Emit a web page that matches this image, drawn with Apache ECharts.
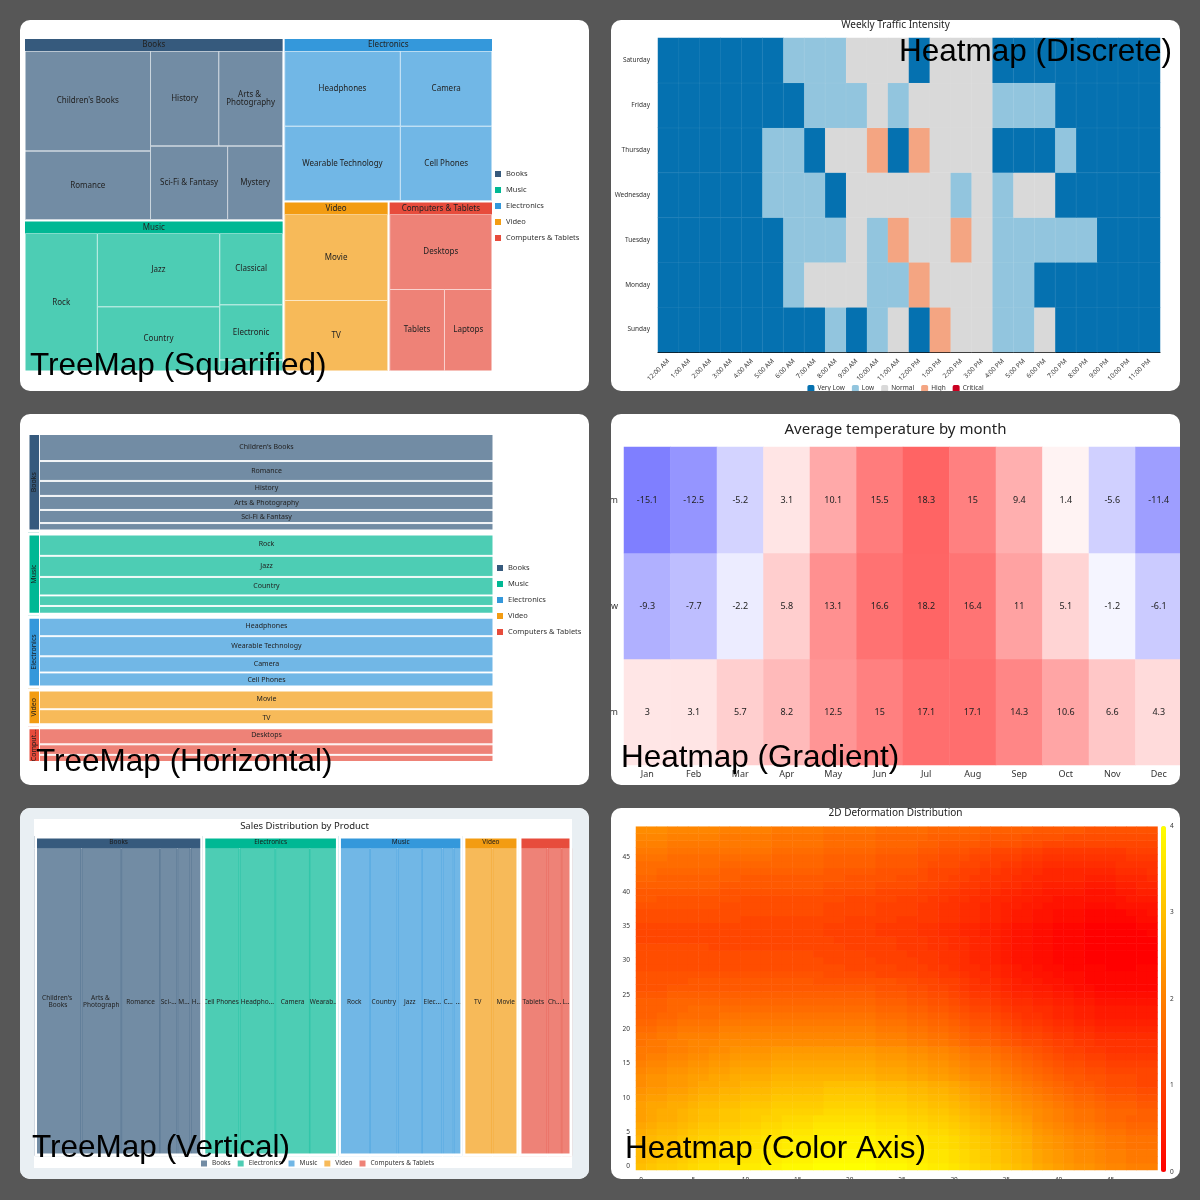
<!DOCTYPE html>
<html><head><meta charset="utf-8">
<script src="https://cdn.jsdelivr.net/npm/echarts@6/dist/echarts.min.js"></script>
<style>
html,body{margin:0;padding:0;background:#575757;width:1200px;height:1200px;overflow:hidden}
.p{position:absolute;width:569px;height:371px;background:#fff;border-radius:10px;overflow:hidden}
</style></head><body>
<div class="p" id="c1" style="left:20px;top:20px"></div>
<div class="p" id="c2" style="left:611px;top:20px"></div>
<div class="p" id="c3" style="left:20px;top:414px"></div>
<div class="p" id="c4" style="left:611px;top:414px"></div>
<div class="p" id="c5" style="left:20px;top:808px"></div>
<div class="p" id="c6" style="left:611px;top:808px"></div>
<script>
// ---------- DATA ----------
const groupNames = ['Books','Music','Electronics','Video','Computers & Tablets'];
const booksNames = ["Children's Books",'Romance','History','Arts & Photography','Sci-Fi & Fantasy','Mystery'];
const booksValues = [124,85,64,60,56,40];
const musicNames = ['Rock','Jazz','Country','Classical','Electronic','Soundtracks'];
const musicValues = [100,90,79,45,35,7];
const electronicsNames = ['Headphones','Wearable Technology','Camera','Cell Phones'];
const electronicsValues = [87,86,69,68];
const videoNames = ['Movie','TV'];
const videoValues = [89,73];
const computersNames = ['Desktops','Tablets','Laptops'];
const computersValues = [77,45,39];

// vertical treemap (Sales Distribution by Product)
const vGroupNames = ['Books','Electronics','Music','Video','Computers & Tablets'];
const vBooksNames = ["Children's Books",'Arts & Photography','Romance','Sci-Fi & Fantasy','Mystery','History'];
const vBooksValues = [46,39,38,17,13,12];
const vElecNames = ['Cell Phones','Headphones','Camera','Wearable Technology'];
const vElecValues = [36,35,34,28];
const vMusicNames = ['Rock','Country','Jazz','Electronic','Classical','Soundtracks'];
const vMusicValues = [31,27,24,20,11,9];
const vVideoNames = ['TV','Movie'];
const vVideoValues = [29,26];
const vCompNames = ['Tablets','Chromebooks','Laptops'];
const vCompValues = [28,14,10];

// weekly traffic (0 Very Low .. 4 Critical)
const hours = ['12:00 AM','1:00 AM','2:00 AM','3:00 AM','4:00 AM','5:00 AM','6:00 AM','7:00 AM','8:00 AM','9:00 AM','10:00 AM','11:00 AM','12:00 PM','1:00 PM','2:00 PM','3:00 PM','4:00 PM','5:00 PM','6:00 PM','7:00 PM','8:00 PM','9:00 PM','10:00 PM','11:00 PM'];
const days = ['Sunday','Monday','Tuesday','Wednesday','Thursday','Friday','Saturday'];
const levelNames = ['Very Low','Low','Normal','High','Critical'];
const trafficSunday    = [0,0,0,0,0,0,0,0,1,0,1,2,0,3,2,2,1,1,2,0,0,0,0,0];
const trafficMonday    = [0,0,0,0,0,0,1,2,2,2,1,1,3,2,2,2,1,1,0,0,0,0,0,0];
const trafficTuesday   = [0,0,0,0,0,0,1,1,1,2,1,3,2,2,3,2,1,1,1,1,1,0,0,0];
const trafficWednesday = [0,0,0,0,0,1,1,1,0,2,2,2,2,2,1,2,1,2,2,0,0,0,0,0];
const trafficThursday  = [0,0,0,0,0,1,1,0,2,2,3,0,3,2,2,2,0,0,0,1,0,0,0,0];
const trafficFriday    = [0,0,0,0,0,0,0,1,1,1,2,1,2,2,2,2,1,1,1,0,0,0,0,0];
const trafficSaturday  = [0,0,0,0,0,0,1,1,1,2,2,2,0,2,2,2,0,0,0,0,0,0,0,0];

// temperatures
const months = ['Jan','Feb','Mar','Apr','May','Jun','Jul','Aug','Sep','Oct','Nov','Dec'];
const cities = ['Amsterdam','Moscow','Perm'];
const tempAmsterdam = [3,3.1,5.7,8.2,12.5,15,17.1,17.1,14.3,10.6,6.6,4.3];
const tempMoscow = [-9.3,-7.7,-2.2,5.8,13.1,16.6,18.2,16.4,11,5.1,-1.2,-6.1];
const tempPerm = [-15.1,-12.5,-5.2,3.1,10.1,15.5,18.3,15,9.4,1.4,-5.6,-11.4];

// deformation (row index = y 0..49, column = x 0..49)
const deformTicks = ['0','1','2','3','4','5','6','7','8','9','10','11','12','13','14','15','16','17','18','19','20','21','22','23','24','25','26','27','28','29','30','31','32','33','34','35','36','37','38','39','40','41','42','43','44','45','46','47','48','49'];
const colorAxisTicks = [0,1,2,3,4];
const deformation = [
[3.0,3.1,3.2,3.2,3.3,3.4,3.5,3.5,3.6,3.6,3.7,3.7,3.8,3.8,3.9,3.9,3.9,4.0,4.0,4.0,4.0,4.0,4.0,3.9,3.9,3.9,3.8,3.8,3.7,3.7,3.6,3.5,3.4,3.3,3.2,3.1,3.0,2.9,2.7,2.6,2.5,2.4,2.3,2.3,2.2,2.1,2.1,2.0,2.0,2.0],
[2.9,3.0,3.1,3.1,3.2,3.3,3.4,3.4,3.5,3.5,3.6,3.6,3.7,3.7,3.8,3.8,3.8,3.9,3.9,3.9,3.9,3.9,3.9,3.8,3.8,3.8,3.7,3.7,3.6,3.6,3.5,3.4,3.3,3.2,3.1,3.0,2.9,2.8,2.6,2.5,2.4,2.3,2.2,2.2,2.1,2.0,2.0,1.9,1.9,1.9],
[2.9,3.0,3.1,3.1,3.2,3.3,3.4,3.4,3.5,3.5,3.6,3.6,3.7,3.7,3.8,3.8,3.8,3.9,3.9,3.9,3.9,3.9,3.9,3.8,3.8,3.8,3.7,3.7,3.6,3.6,3.5,3.4,3.3,3.2,3.1,3.0,2.9,2.8,2.6,2.5,2.4,2.3,2.2,2.2,2.1,2.0,2.0,1.9,1.9,1.9],
[2.8,2.9,3.0,3.0,3.1,3.2,3.3,3.3,3.4,3.4,3.5,3.5,3.6,3.6,3.7,3.7,3.7,3.8,3.8,3.8,3.8,3.8,3.8,3.7,3.7,3.7,3.6,3.6,3.5,3.5,3.4,3.3,3.2,3.1,3.0,2.9,2.8,2.7,2.5,2.4,2.3,2.2,2.1,2.1,2.0,1.9,1.9,1.8,1.8,1.8],
[2.8,2.9,3.0,3.0,3.1,3.2,3.3,3.3,3.4,3.4,3.5,3.5,3.6,3.6,3.7,3.7,3.7,3.8,3.8,3.8,3.8,3.8,3.8,3.7,3.7,3.7,3.6,3.6,3.5,3.5,3.4,3.3,3.2,3.1,3.0,2.9,2.8,2.7,2.5,2.4,2.3,2.2,2.1,2.1,2.0,1.9,1.9,1.8,1.8,1.8],
[2.7,2.8,2.9,2.9,3.0,3.1,3.2,3.2,3.3,3.3,3.4,3.4,3.5,3.5,3.6,3.6,3.6,3.7,3.7,3.7,3.7,3.7,3.7,3.6,3.6,3.6,3.5,3.5,3.4,3.4,3.3,3.2,3.1,3.0,2.9,2.8,2.7,2.6,2.4,2.3,2.2,2.1,2.0,2.0,1.9,1.8,1.8,1.7,1.7,1.7],
[2.6,2.7,2.8,2.8,2.9,3.0,3.1,3.1,3.2,3.2,3.3,3.3,3.4,3.4,3.5,3.5,3.5,3.6,3.6,3.6,3.6,3.6,3.6,3.5,3.5,3.5,3.4,3.4,3.3,3.3,3.2,3.1,3.0,2.9,2.8,2.7,2.6,2.5,2.3,2.2,2.1,2.0,1.9,1.9,1.8,1.7,1.7,1.6,1.6,1.6],
[2.5,2.6,2.7,2.7,2.8,2.9,3.0,3.0,3.1,3.1,3.2,3.2,3.3,3.3,3.4,3.4,3.4,3.5,3.5,3.5,3.5,3.5,3.5,3.4,3.4,3.4,3.3,3.3,3.2,3.2,3.1,3.0,2.9,2.8,2.7,2.6,2.5,2.4,2.2,2.1,2.0,1.9,1.8,1.8,1.7,1.6,1.6,1.5,1.5,1.5],
[2.5,2.6,2.7,2.7,2.8,2.9,3.0,3.0,3.1,3.1,3.2,3.2,3.2,3.3,3.3,3.3,3.3,3.3,3.4,3.4,3.4,3.4,3.4,3.3,3.3,3.3,3.2,3.2,3.1,3.1,3.0,2.9,2.8,2.7,2.6,2.5,2.4,2.3,2.2,2.1,2.0,1.9,1.8,1.8,1.7,1.6,1.6,1.6,1.5,1.5],
[2.5,2.6,2.6,2.7,2.7,2.8,2.9,2.9,3.0,3.0,3.1,3.1,3.1,3.2,3.2,3.2,3.2,3.2,3.3,3.3,3.3,3.3,3.3,3.2,3.2,3.2,3.1,3.1,3.0,3.0,2.9,2.8,2.7,2.6,2.5,2.4,2.3,2.2,2.1,2.0,1.9,1.8,1.7,1.7,1.6,1.5,1.5,1.5,1.4,1.4],
[2.4,2.5,2.5,2.6,2.6,2.7,2.8,2.8,2.9,2.9,3.0,3.0,3.0,3.1,3.1,3.1,3.1,3.1,3.2,3.2,3.2,3.2,3.2,3.1,3.1,3.1,3.0,3.0,2.9,2.9,2.8,2.7,2.6,2.5,2.4,2.3,2.2,2.1,2.0,1.9,1.8,1.7,1.6,1.6,1.5,1.4,1.4,1.4,1.3,1.3],
[2.3,2.4,2.4,2.5,2.5,2.6,2.7,2.7,2.8,2.8,2.9,2.9,2.9,3.0,3.0,3.0,3.0,3.0,3.1,3.1,3.1,3.1,3.1,3.0,3.0,3.0,2.9,2.9,2.8,2.8,2.7,2.6,2.5,2.4,2.3,2.2,2.1,2.0,1.9,1.8,1.7,1.6,1.5,1.5,1.4,1.3,1.3,1.3,1.2,1.2],
[2.2,2.3,2.3,2.4,2.4,2.5,2.6,2.6,2.7,2.7,2.8,2.8,2.8,2.9,2.9,2.9,2.9,2.9,3.0,3.0,3.0,3.0,3.0,2.9,2.9,2.9,2.8,2.8,2.7,2.7,2.6,2.5,2.4,2.3,2.2,2.1,2.0,1.9,1.8,1.7,1.6,1.5,1.4,1.4,1.3,1.2,1.2,1.2,1.1,1.1],
[2.2,2.3,2.3,2.4,2.4,2.5,2.5,2.6,2.6,2.7,2.7,2.7,2.7,2.8,2.8,2.8,2.8,2.8,2.8,2.8,2.8,2.8,2.8,2.7,2.7,2.7,2.6,2.6,2.5,2.5,2.4,2.3,2.2,2.2,2.1,2.0,1.9,1.8,1.7,1.6,1.5,1.4,1.4,1.3,1.3,1.2,1.2,1.2,1.1,1.1],
[2.1,2.2,2.2,2.3,2.3,2.4,2.4,2.5,2.5,2.6,2.6,2.6,2.6,2.7,2.7,2.7,2.7,2.7,2.7,2.7,2.7,2.7,2.7,2.6,2.6,2.6,2.5,2.5,2.4,2.4,2.3,2.2,2.1,2.1,2.0,1.9,1.8,1.7,1.6,1.5,1.4,1.3,1.3,1.2,1.2,1.1,1.1,1.1,1.1,1.1],
[2.0,2.1,2.1,2.2,2.2,2.3,2.3,2.4,2.4,2.5,2.5,2.5,2.5,2.6,2.6,2.6,2.6,2.6,2.6,2.6,2.6,2.6,2.6,2.5,2.5,2.5,2.4,2.4,2.3,2.3,2.2,2.1,2.0,2.0,1.9,1.8,1.7,1.6,1.5,1.4,1.3,1.2,1.2,1.1,1.1,1.0,1.0,1.0,1.0,1.0],
[1.9,2.0,2.0,2.1,2.1,2.2,2.2,2.3,2.3,2.4,2.4,2.4,2.4,2.5,2.5,2.5,2.5,2.5,2.5,2.5,2.5,2.5,2.5,2.4,2.4,2.4,2.3,2.3,2.2,2.2,2.1,2.0,1.9,1.9,1.8,1.7,1.6,1.5,1.4,1.3,1.2,1.1,1.1,1.0,1.0,0.9,0.9,0.9,0.9,0.9],
[1.9,1.9,1.9,2.0,2.0,2.1,2.1,2.2,2.2,2.3,2.3,2.3,2.3,2.4,2.4,2.4,2.4,2.4,2.4,2.4,2.4,2.4,2.4,2.3,2.3,2.3,2.2,2.2,2.1,2.1,2.0,1.9,1.8,1.8,1.7,1.6,1.5,1.4,1.3,1.2,1.1,1.0,1.0,0.9,0.9,0.8,0.8,0.8,0.8,0.8],
[1.8,1.9,1.9,2.0,2.0,2.1,2.1,2.1,2.2,2.2,2.2,2.2,2.2,2.2,2.2,2.2,2.2,2.2,2.2,2.2,2.2,2.2,2.2,2.1,2.1,2.1,2.0,2.0,1.9,1.9,1.8,1.7,1.6,1.6,1.5,1.4,1.3,1.2,1.2,1.1,1.0,1.0,0.9,0.9,0.8,0.8,0.8,0.8,0.8,0.8],
[1.8,1.8,1.9,1.9,2.0,2.0,2.0,2.0,2.1,2.1,2.1,2.1,2.1,2.1,2.1,2.1,2.1,2.1,2.1,2.1,2.1,2.1,2.1,2.0,2.0,2.0,1.9,1.9,1.8,1.8,1.7,1.6,1.5,1.5,1.4,1.3,1.2,1.1,1.1,1.0,0.9,0.9,0.8,0.8,0.7,0.7,0.7,0.7,0.7,0.7],
[1.7,1.7,1.8,1.8,1.9,1.9,1.9,1.9,2.0,2.0,2.0,2.0,2.0,2.0,2.0,2.0,2.0,2.0,2.0,2.0,2.0,2.0,2.0,1.9,1.9,1.9,1.8,1.8,1.7,1.7,1.6,1.5,1.4,1.4,1.3,1.2,1.1,1.0,1.0,0.9,0.8,0.8,0.7,0.7,0.6,0.6,0.6,0.6,0.6,0.6],
[1.6,1.6,1.7,1.7,1.8,1.8,1.8,1.8,1.9,1.9,1.9,1.9,1.9,1.9,1.9,1.9,1.9,1.9,1.9,1.9,1.9,1.9,1.9,1.8,1.8,1.8,1.7,1.7,1.6,1.6,1.5,1.4,1.3,1.3,1.2,1.1,1.0,0.9,0.9,0.8,0.7,0.7,0.6,0.6,0.5,0.5,0.5,0.5,0.5,0.5],
[1.5,1.5,1.6,1.6,1.7,1.7,1.7,1.7,1.8,1.8,1.8,1.8,1.8,1.8,1.8,1.8,1.8,1.8,1.8,1.8,1.8,1.8,1.8,1.7,1.7,1.7,1.6,1.6,1.5,1.5,1.4,1.3,1.2,1.2,1.1,1.0,0.9,0.8,0.8,0.7,0.6,0.6,0.5,0.5,0.4,0.4,0.4,0.4,0.4,0.4],
[1.5,1.5,1.5,1.6,1.6,1.7,1.7,1.7,1.7,1.7,1.7,1.7,1.7,1.7,1.7,1.7,1.7,1.7,1.7,1.7,1.7,1.7,1.7,1.6,1.6,1.6,1.5,1.5,1.4,1.4,1.3,1.2,1.1,1.1,1.0,0.9,0.8,0.8,0.7,0.7,0.6,0.6,0.5,0.5,0.4,0.4,0.4,0.4,0.4,0.4],
[1.5,1.5,1.5,1.6,1.6,1.6,1.6,1.6,1.6,1.6,1.6,1.6,1.6,1.6,1.6,1.6,1.6,1.6,1.6,1.6,1.6,1.6,1.6,1.5,1.5,1.5,1.4,1.4,1.3,1.3,1.2,1.1,1.0,1.0,0.9,0.8,0.7,0.7,0.6,0.6,0.5,0.5,0.4,0.4,0.3,0.3,0.3,0.3,0.3,0.3],
[1.4,1.4,1.4,1.5,1.5,1.5,1.5,1.5,1.5,1.5,1.5,1.5,1.5,1.5,1.5,1.5,1.5,1.5,1.5,1.5,1.5,1.5,1.5,1.4,1.4,1.4,1.3,1.3,1.2,1.2,1.1,1.0,0.9,0.9,0.8,0.7,0.6,0.6,0.5,0.5,0.4,0.4,0.3,0.3,0.2,0.2,0.2,0.2,0.2,0.2],
[1.3,1.3,1.3,1.4,1.4,1.4,1.4,1.4,1.4,1.4,1.4,1.4,1.4,1.4,1.4,1.4,1.4,1.4,1.4,1.4,1.4,1.4,1.4,1.3,1.3,1.3,1.2,1.2,1.1,1.1,1.0,0.9,0.8,0.8,0.7,0.6,0.5,0.5,0.4,0.4,0.3,0.3,0.2,0.2,0.1,0.1,0.1,0.1,0.1,0.1],
[1.3,1.3,1.3,1.3,1.3,1.4,1.4,1.4,1.4,1.4,1.4,1.4,1.4,1.4,1.4,1.4,1.4,1.3,1.3,1.3,1.3,1.3,1.3,1.3,1.3,1.2,1.2,1.1,1.1,1.0,1.0,0.9,0.8,0.7,0.7,0.6,0.5,0.4,0.4,0.3,0.3,0.2,0.2,0.1,0.1,0.1,0.1,0.1,0.1,0.1],
[1.3,1.3,1.3,1.3,1.3,1.3,1.3,1.3,1.3,1.3,1.3,1.3,1.3,1.3,1.3,1.3,1.3,1.3,1.2,1.2,1.2,1.2,1.2,1.1,1.1,1.1,1.1,1.0,1.0,0.9,0.9,0.8,0.7,0.7,0.6,0.5,0.4,0.4,0.3,0.3,0.2,0.2,0.2,0.1,0.1,0.1,0.1,0.1,0.1,0.1],
[1.2,1.2,1.2,1.2,1.2,1.2,1.2,1.2,1.2,1.2,1.2,1.2,1.2,1.2,1.2,1.2,1.2,1.2,1.2,1.2,1.1,1.1,1.1,1.1,1.1,1.0,1.0,1.0,0.9,0.9,0.8,0.7,0.7,0.6,0.6,0.5,0.4,0.3,0.3,0.2,0.2,0.1,0.1,0.1,0.1,0,0,0,0.1,0.1],
[1.2,1.2,1.2,1.2,1.2,1.2,1.2,1.2,1.2,1.2,1.2,1.2,1.2,1.2,1.2,1.2,1.2,1.2,1.1,1.1,1.1,1.1,1.1,1.0,1.0,1.0,1.0,0.9,0.9,0.8,0.8,0.7,0.6,0.6,0.5,0.4,0.3,0.3,0.2,0.2,0.1,0.1,0.1,0,0,0,0,0,0,0],
[1.2,1.2,1.2,1.2,1.2,1.2,1.2,1.2,1.2,1.2,1.2,1.2,1.2,1.2,1.2,1.2,1.2,1.1,1.1,1.1,1.1,1.1,1.0,1.0,1.0,1.0,0.9,0.9,0.9,0.8,0.8,0.7,0.6,0.6,0.5,0.4,0.3,0.3,0.2,0.2,0.1,0.1,0.1,0,0,0,0,0,0,0],
[1.2,1.2,1.2,1.2,1.2,1.2,1.2,1.1,1.1,1.1,1.1,1.1,1.1,1.1,1.1,1.1,1.1,1.1,1.1,1.1,1.0,1.0,1.0,1.0,1.0,0.9,0.9,0.9,0.8,0.8,0.7,0.7,0.6,0.6,0.5,0.4,0.3,0.3,0.2,0.2,0.1,0.1,0.1,0,0,0,0,0,0,0],
[1.1,1.1,1.1,1.1,1.1,1.1,1.1,1.1,1.1,1.1,1.1,1.1,1.1,1.1,1.1,1.1,1.1,1.1,1.1,1.0,1.0,1.0,1.0,1.0,1.0,0.9,0.9,0.9,0.8,0.8,0.7,0.7,0.6,0.6,0.5,0.4,0.3,0.3,0.2,0.2,0.1,0.1,0.1,0,0,0,0,0,0,0],
[1.1,1.1,1.1,1.1,1.1,1.1,1.1,1.1,1.1,1.1,1.1,1.1,1.1,1.1,1.1,1.1,1.1,1.1,1.0,1.0,1.0,1.0,1.0,0.9,0.9,0.9,0.9,0.8,0.8,0.7,0.7,0.6,0.6,0.5,0.5,0.4,0.3,0.3,0.2,0.2,0.1,0.1,0.1,0,0,0,0,0,0,0.1],
[1.1,1.1,1.1,1.1,1.1,1.1,1.1,1.1,1.1,1.1,1.1,1.1,1.1,1.1,1.1,1.1,1.1,1.1,1.0,1.0,1.0,1.0,1.0,0.9,0.9,0.9,0.9,0.8,0.8,0.7,0.7,0.6,0.6,0.5,0.5,0.4,0.3,0.3,0.2,0.2,0.1,0.1,0.1,0,0,0,0,0,0.1,0.1],
[1.2,1.2,1.2,1.2,1.2,1.2,1.2,1.2,1.2,1.2,1.1,1.1,1.1,1.1,1.1,1.1,1.1,1.1,1.1,1.1,1.0,1.0,1.0,1.0,1.0,0.9,0.9,0.9,0.9,0.8,0.8,0.7,0.7,0.6,0.6,0.5,0.4,0.4,0.3,0.3,0.2,0.2,0.2,0.1,0.1,0.1,0.1,0.1,0.2,0.2],
[1.2,1.2,1.2,1.2,1.2,1.2,1.2,1.2,1.2,1.2,1.2,1.2,1.2,1.2,1.2,1.2,1.2,1.2,1.1,1.1,1.1,1.1,1.1,1.0,1.0,1.0,1.0,0.9,0.9,0.8,0.8,0.7,0.7,0.6,0.6,0.5,0.4,0.4,0.3,0.3,0.2,0.2,0.2,0.1,0.1,0.1,0.1,0.2,0.2,0.3],
[1.3,1.3,1.3,1.3,1.3,1.3,1.3,1.3,1.2,1.2,1.2,1.2,1.2,1.2,1.2,1.2,1.2,1.2,1.1,1.1,1.1,1.1,1.1,1.0,1.0,1.0,1.0,0.9,0.9,0.8,0.8,0.7,0.7,0.6,0.6,0.5,0.5,0.4,0.4,0.3,0.3,0.3,0.3,0.2,0.2,0.2,0.3,0.3,0.3,0.3],
[1.4,1.4,1.3,1.3,1.3,1.3,1.3,1.3,1.3,1.3,1.2,1.2,1.2,1.2,1.2,1.2,1.2,1.2,1.2,1.2,1.1,1.1,1.1,1.1,1.1,1.0,1.0,1.0,0.9,0.9,0.8,0.8,0.7,0.7,0.6,0.6,0.5,0.5,0.4,0.4,0.3,0.3,0.3,0.3,0.3,0.3,0.3,0.4,0.4,0.4],
[1.4,1.4,1.4,1.4,1.4,1.4,1.4,1.4,1.3,1.3,1.3,1.3,1.3,1.3,1.3,1.3,1.3,1.3,1.2,1.2,1.2,1.2,1.2,1.1,1.1,1.1,1.1,1.0,1.0,0.9,0.9,0.8,0.8,0.7,0.7,0.6,0.6,0.5,0.5,0.4,0.4,0.4,0.4,0.3,0.3,0.3,0.4,0.4,0.5,0.5],
[1.5,1.5,1.5,1.5,1.5,1.5,1.5,1.5,1.4,1.4,1.4,1.4,1.4,1.4,1.4,1.4,1.4,1.4,1.3,1.3,1.3,1.3,1.3,1.2,1.2,1.2,1.2,1.1,1.1,1.0,1.0,0.9,0.9,0.8,0.8,0.7,0.7,0.6,0.6,0.5,0.5,0.5,0.5,0.4,0.4,0.4,0.5,0.5,0.6,0.6],
[1.6,1.6,1.5,1.5,1.5,1.5,1.5,1.5,1.5,1.5,1.4,1.4,1.4,1.4,1.4,1.4,1.4,1.4,1.4,1.4,1.3,1.3,1.3,1.3,1.3,1.2,1.2,1.2,1.1,1.1,1.0,1.0,0.9,0.9,0.8,0.8,0.7,0.7,0.6,0.6,0.6,0.6,0.6,0.5,0.5,0.5,0.6,0.6,0.6,0.7],
[1.7,1.7,1.6,1.6,1.6,1.6,1.6,1.6,1.5,1.5,1.5,1.5,1.5,1.5,1.5,1.5,1.5,1.5,1.4,1.4,1.4,1.4,1.4,1.3,1.3,1.3,1.3,1.2,1.1,1.1,1.1,1.0,1.0,0.9,0.9,0.8,0.8,0.7,0.7,0.6,0.6,0.6,0.6,0.6,0.6,0.6,0.7,0.7,0.7,0.8],
[1.7,1.7,1.7,1.7,1.7,1.7,1.7,1.7,1.6,1.6,1.6,1.6,1.6,1.6,1.6,1.6,1.6,1.6,1.5,1.5,1.5,1.5,1.5,1.4,1.4,1.4,1.4,1.3,1.2,1.2,1.2,1.1,1.1,1.0,1.0,0.9,0.9,0.8,0.8,0.7,0.7,0.7,0.7,0.7,0.7,0.7,0.8,0.8,0.8,0.8],
[1.8,1.8,1.8,1.7,1.7,1.7,1.7,1.7,1.7,1.7,1.7,1.7,1.7,1.6,1.6,1.6,1.6,1.6,1.5,1.5,1.5,1.5,1.5,1.4,1.4,1.4,1.4,1.3,1.3,1.2,1.2,1.2,1.1,1.1,1.0,1.0,1.0,0.9,0.9,0.8,0.8,0.8,0.8,0.8,0.8,0.8,0.8,0.9,0.9,0.9],
[1.9,1.9,1.9,1.8,1.8,1.8,1.8,1.8,1.8,1.8,1.8,1.8,1.8,1.7,1.7,1.7,1.7,1.7,1.6,1.6,1.6,1.6,1.6,1.5,1.5,1.5,1.5,1.4,1.4,1.3,1.3,1.3,1.2,1.2,1.1,1.1,1.1,1.0,1.0,0.9,0.9,0.9,0.9,0.9,0.9,0.9,0.9,1.0,1.0,1.0],
[2.0,2.0,2.0,1.9,1.9,1.9,1.9,1.9,1.9,1.9,1.9,1.9,1.9,1.8,1.8,1.8,1.8,1.8,1.7,1.7,1.7,1.7,1.7,1.6,1.6,1.6,1.6,1.5,1.5,1.4,1.4,1.4,1.4,1.3,1.3,1.3,1.3,1.2,1.2,1.1,1.1,1.1,1.1,1.1,1.1,1.1,1.1,1.1,1.1,1.1],
[2.1,2.1,2.1,2.0,2.0,2.0,2.0,2.0,1.9,1.9,1.9,1.9,1.9,1.8,1.8,1.8,1.8,1.8,1.7,1.7,1.7,1.7,1.7,1.6,1.6,1.6,1.6,1.6,1.5,1.5,1.5,1.5,1.5,1.4,1.4,1.4,1.4,1.3,1.3,1.3,1.3,1.2,1.2,1.2,1.2,1.2,1.2,1.2,1.2,1.2],
[2.2,2.2,2.2,2.1,2.1,2.1,2.1,2.1,2.0,2.0,2.0,2.0,2.0,1.9,1.9,1.9,1.9,1.9,1.8,1.8,1.8,1.8,1.8,1.7,1.7,1.7,1.7,1.7,1.6,1.6,1.6,1.6,1.6,1.5,1.5,1.5,1.5,1.5,1.4,1.4,1.4,1.4,1.4,1.3,1.3,1.3,1.3,1.3,1.3,1.3]
];

// ---------- STYLE ----------
const FONT = "'Noto Sans', sans-serif";
const BIG = "31.5px 'Liberation Sans', Arial, sans-serif";
const groupColors = ['#365a7d','#00b894','#3498db','#f39c12','#e74c3c'];
const levelColors = ['#0571b0','#92c5de','#d9d9d9','#f4a582','#ca0020'];
function mix(hex, a) {
  const n = parseInt(hex.slice(1), 16);
  const r = n >> 16, g = (n >> 8) & 255, b = n & 255;
  const m = c => Math.round(c * a + 255 * (1 - a));
  return 'rgb(' + m(r) + ',' + m(g) + ',' + m(b) + ')';
}
function bigText(text, x, y, align) {
  return {type:'text', x:x, y:y, z:100, silent:true,
    style:{text:text, font:BIG, fill:'#000', align:align||'left', verticalAlign:'middle', textAlign:align||'left', textVerticalAlign:'middle'}};
}
function dummyPie(names, colors) {
  return {type:'pie', radius:[0,0], center:[-100,-100], silent:true, label:{show:false}, labelLine:{show:false},
    data:names.map((n,i)=>({name:n, value:0, itemStyle:{color:colors[i]}}))};
}
const sum = a => a.reduce((s,v)=>s+v,0);
const G = o => Object.assign({outerBoundsMode:'none', containLabel:false}, o);

// ---------- 1: squarified treemap ----------
const sqGroups = [[booksNames,booksValues],[musicNames,musicValues],[electronicsNames,electronicsValues],[videoNames,videoValues],[computersNames,computersValues]];
const treeData = groupNames.map((g,i)=>({
  name:g, itemStyle:{color:groupColors[i], borderColor:groupColors[i]},
  children: sqGroups[i][0].map((n,j)=>({name:n, value:sqGroups[i][1][j], itemStyle:{color:mix(groupColors[i],0.7)}}))
}));
echarts.init(document.getElementById('c1')).setOption({
  animation:false, textStyle:{fontFamily:FONT},
  legend:{data:groupNames, orient:'vertical', left:475, top:150, padding:0, itemWidth:6, itemHeight:6, itemGap:8, icon:'rect',
    textStyle:{fontSize:7.5, color:'#333'}, selectedMode:false},
  graphic:[bigText('TreeMap (Squarified)', 10, 346)],
  series:[
    {type:'treemap', left:5, top:19, width:467, height:332, roam:false, nodeClick:false, breadcrumb:{show:false}, squareRatio:1,
     label:{show:true, position:'inside', fontSize:8, color:'#222', overflow:'break'},
     upperLabel:{show:true, height:12, fontSize:8, color:'#222', position:'inside'},
     levels:[
       {itemStyle:{borderWidth:0, gapWidth:2, borderColor:'#fff'}, upperLabel:{show:false}},
       {itemStyle:{borderWidth:0, gapWidth:0}, upperLabel:{show:true}},
       {itemStyle:{borderWidth:0.5, borderColor:'#fff', gapWidth:0}}
     ],
     data:treeData},
    dummyPie(groupNames, groupColors)
  ]
});

// ---------- 2: discrete heatmap ----------
const trafficRows = [trafficSunday,trafficMonday,trafficTuesday,trafficWednesday,trafficThursday,trafficFriday,trafficSaturday];
const trafficData = [];
trafficRows.forEach((row,y)=>row.forEach((v,x)=>trafficData.push([x,y,v])));
echarts.init(document.getElementById('c2')).setOption({
  animation:false, textStyle:{fontFamily:FONT},
  title:{text:'Weekly Traffic Intensity', left:'center', top:0, padding:0, textStyle:{fontSize:10, fontWeight:'normal', color:'#222', fontFamily:FONT}},
  grid:G({left:47, top:18, width:502, height:314}),
  xAxis:{type:'category', data:hours, axisLabel:{rotate:45, fontSize:6.5, interval:0, color:'#333'},
    axisLine:{lineStyle:{color:'#000'}}, axisTick:{lineStyle:{color:'#000'}}},
  yAxis:{type:'category', data:days, axisLabel:{fontSize:6.5, color:'#333'}, axisLine:{show:false}, axisTick:{show:false}},
  visualMap:{type:'piecewise', dimension:2, orient:'horizontal', left:'center', top:365, padding:0, itemWidth:7, itemHeight:7,
    itemGap:7, textGap:3, selectedMode:false, textStyle:{fontSize:6.5, color:'#333'},
    pieces:levelNames.map((n,i)=>({value:i, label:n, color:levelColors[i]}))},
  graphic:[bigText('Heatmap (Discrete)', 561, 32, 'right')],
  series:[{type:'heatmap', data:trafficData, itemStyle:{borderColor:'rgba(255,255,255,0.12)', borderWidth:0.5}}]
});

// ---------- 3: horizontal slice treemap ----------
const hGroups = sqGroups;
const hTotals = hGroups.map(g=>sum(g[1]));
const hSum = sum(hTotals);
const hPx = 332 / hSum;
const s3 = [];
hGroups.forEach((g,i)=>{
  s3.push({type:'bar', name:'hdr'+i, xAxisIndex:0, yAxisIndex:0, stack:'hdr', barWidth:'100%', data:[hTotals[i]], silent:true,
    itemStyle:{color:groupColors[i]},
    label:{show:true, position:'inside', rotate:90, formatter:groupNames[i], fontSize:7, color:'#1a1a1a',
      width:hTotals[i]*hPx-5, overflow:'truncate', ellipsis:'...'}});
  g[1].forEach((v,j)=>{
    s3.push({type:'bar', name:g[0][j], xAxisIndex:1, yAxisIndex:1, stack:'kids', barWidth:'100%', data:[v], silent:true,
      itemStyle:{color:mix(groupColors[i],0.7), borderColor:'rgba(255,255,255,0.85)', borderWidth:1},
      label:{show:v*hPx>=12, position:'inside', formatter:g[0][j], fontSize:7, color:'#222'}});
  });
});
hGroups.forEach((g,i)=>{
  s3.push({type:'bar', name:'gap'+i, xAxisIndex:2, yAxisIndex:2, stack:'gap', barWidth:'100%', data:[hTotals[i]], silent:true, z:5,
    itemStyle:{color:'rgba(0,0,0,0)', borderColor:'#fff', borderWidth:3}});
});
s3.push(dummyPie(groupNames, groupColors));
echarts.init(document.getElementById('c3')).setOption({
  animation:false, textStyle:{fontFamily:FONT},
  grid:[G({left:8,top:18,width:11,height:332}),G({left:19,top:18,width:455,height:332}),G({left:6.5,top:18,width:469,height:332})],
  xAxis:[0,1,2].map(i=>({type:'category', data:['all'], gridIndex:i, show:false})),
  yAxis:[0,1,2].map(i=>({type:'value', min:0, max:hSum, inverse:true, gridIndex:i, show:false})),
  legend:{data:groupNames, orient:'vertical', left:477, top:150, padding:0, itemWidth:6, itemHeight:6, itemGap:8, icon:'rect',
    textStyle:{fontSize:7.5, color:'#333'}, selectedMode:false},
  graphic:[bigText('TreeMap (Horizontal)', 16, 348)],
  series:s3
});

// ---------- 4: gradient heatmap ----------
const tempRows = [tempAmsterdam, tempMoscow, tempPerm];
const tempData = [];
tempRows.forEach((row,y)=>row.forEach((v,x)=>tempData.push([x,y,v])));
echarts.init(document.getElementById('c4')).setOption({
  animation:false, textStyle:{fontFamily:FONT},
  title:{text:'Average temperature by month', left:'center', top:8, padding:0, textStyle:{fontSize:15, fontWeight:'normal', color:'#222', fontFamily:FONT}},
  grid:G({left:13, top:33, width:558, height:318}),
  xAxis:{type:'category', data:months, axisLabel:{fontSize:9, color:'#333', margin:5}, axisLine:{show:false}, axisTick:{show:false}},
  yAxis:{type:'category', data:cities, axisLabel:{fontSize:9, color:'#333', margin:6}, axisLine:{show:false}, axisTick:{show:false}},
  visualMap:{show:false, dimension:2, min:-18.3, max:18.3, inRange:{color:['#6464ff','#ffffff','#ff6464']}},
  graphic:[bigText('Heatmap (Gradient)', 10, 344)],
  series:[{type:'heatmap', data:tempData, label:{show:true, fontSize:9, color:'#222'}}]
});

// ---------- 5: vertical slice treemap ----------
const vGroups = [[vBooksNames,vBooksValues],[vElecNames,vElecValues],[vMusicNames,vMusicValues],[vVideoNames,vVideoValues],[vCompNames,vCompValues]];
const vTotals = vGroups.map(g=>sum(g[1]));
const vSum = sum(vTotals);
const vPx = 537.5 / vSum;
const s5 = [];
vGroups.forEach((g,i)=>{
  const gw = vTotals[i]*vPx;
  s5.push({type:'bar', name:'hdr'+i, xAxisIndex:0, yAxisIndex:0, stack:'hdr', barWidth:'100%', data:[vTotals[i]], silent:true,
    itemStyle:{color:groupColors[i]},
    label:{show:vGroupNames[i].length*3.4 < gw, position:'inside', formatter:vGroupNames[i], fontSize:6.5, color:'#1a1a1a'}});
  g[1].forEach((v,j)=>{
    const w = v*vPx;
    s5.push({type:'bar', name:g[0][j], xAxisIndex:1, yAxisIndex:1, stack:'kids', barWidth:'100%', data:[v], silent:true,
      itemStyle:{color:mix(groupColors[i],0.7), borderColor:mix(groupColors[i],0.9), borderWidth:0.8},
      label:{show:true, position:'inside', formatter:g[0][j], fontSize:6.5, color:'#222', width:w,
        overflow: w>=38 ? 'break' : 'truncate', lineOverflow:'truncate', height: w>=38 ? 18 : 9, ellipsis:'...'}});
  });
});
vGroups.forEach((g,i)=>{
  s5.push({type:'bar', name:'gap'+i, xAxisIndex:2, yAxisIndex:2, stack:'gap', barWidth:'100%', data:[vTotals[i]], silent:true, z:5,
    itemStyle:{color:'rgba(0,0,0,0)', borderColor:'#fff', borderWidth:2.5}});
});
s5.push(dummyPie(vGroupNames, groupColors.map(c=>mix(c,0.7))));
echarts.init(document.getElementById('c5')).setOption({
  animation:false, textStyle:{fontFamily:FONT}, backgroundColor:'#e9eff3',
  title:{text:'Sales Distribution by Product', left:'center', top:13, padding:0, textStyle:{fontSize:9.5, fontWeight:'normal', color:'#222', fontFamily:FONT}},
  grid:[G({left:14.5,top:28,width:537.5,height:12}),G({left:14.5,top:40,width:537.5,height:308}),G({left:14.5,top:28,width:537.5,height:320})],
  yAxis:[0,1,2].map(i=>({type:'category', data:['all'], gridIndex:i, show:false})),
  xAxis:[0,1,2].map(i=>({type:'value', min:0, max:vSum, gridIndex:i, show:false})),
  legend:{data:vGroupNames, orient:'horizontal', left:181, top:352, padding:0, itemWidth:6, itemHeight:6, itemGap:7, icon:'rect',
    textStyle:{fontSize:6.5, color:'#333'}, selectedMode:false},
  graphic:[
    {type:'rect', x:14, y:11, z:-10, silent:true, shape:{width:538, height:349}, style:{fill:'#fff'}},
    bigText('TreeMap (Vertical)', 12, 340)
  ],
  series:s5
});

// ---------- 6: color-axis heatmap ----------
const deformData = [];
deformation.forEach((row,y)=>row.forEach((v,x)=>deformData.push([x,y,v])));
echarts.init(document.getElementById('c6')).setOption({
  animation:false, textStyle:{fontFamily:FONT},
  title:{text:'2D Deformation Distribution', left:'center', top:0, padding:0, textStyle:{fontSize:10, fontWeight:'normal', color:'#222', fontFamily:FONT}},
  grid:[G({left:25, top:18.7, width:521.5, height:343.3}),G({left:550, top:18, width:5, height:346})],
  xAxis:[
    {type:'category', gridIndex:0, data:deformTicks, axisLabel:{interval:4, fontSize:6.5, color:'#333', margin:7}, axisLine:{show:false}, axisTick:{show:false}},
    {type:'value', gridIndex:1, show:false}
  ],
  yAxis:[
    {type:'category', gridIndex:0, data:deformTicks, axisLabel:{interval:4, fontSize:6.5, color:'#333', margin:6}, axisLine:{show:false}, axisTick:{show:false}},
    {type:'value', gridIndex:1, position:'right', min:colorAxisTicks[0], max:colorAxisTicks[4], interval:1,
     axisLabel:{fontSize:6.5, color:'#333', margin:4}, axisLine:{show:false}, axisTick:{show:false}, splitLine:{show:false}}
  ],
  visualMap:{type:'continuous', seriesIndex:0, dimension:2, min:0, max:4, calculable:false, orient:'vertical', left:550, top:18,
    itemWidth:5, itemHeight:346, padding:0, inRange:{color:['#ff0000','#ffff00']}},
  graphic:[bigText('Heatmap (Color Axis)', 14, 341)],
  series:[{type:'heatmap', xAxisIndex:0, yAxisIndex:0, data:deformData}]
});
</script>
</body></html>
